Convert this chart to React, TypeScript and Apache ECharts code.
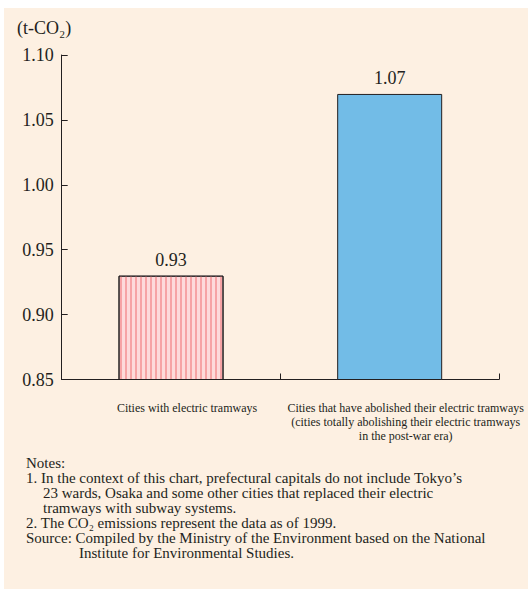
import React, { useEffect, useRef } from "react";
import * as echarts from "echarts";

const categories = [
  "Cities with electric tramways",
  "Cities that have abolished their electric tramways\n(cities totally abolishing their electric tramways\nin the post-war era)",
];
const values = [0.93, 1.07];
const yTicks = { min: 0.85, max: 1.1, interval: 0.05 };
const unitLabel = "(t-CO₂)";
const notesLines = [
  { text: "Notes:", indent: 0 },
  { text: "1. In the context of this chart, prefectural capitals do not include Tokyo’s", indent: 0 },
  { text: "23 wards, Osaka and some other cities that replaced their electric", indent: 17 },
  { text: "tramways with subway systems.", indent: 17 },
  { text: "2. The CO₂ emissions represent the data as of 1999.", indent: 0 },
  { text: "Source: Compiled by the Ministry of the Environment based on the National", indent: 0 },
  { text: "Institute for Environmental Studies.", indent: 53 },
];

const INK = "#231F20";
const FONT = "Liberation Serif";

export default function App() {
  const ref = useRef<HTMLDivElement>(null);
  useEffect(() => {
    if (!ref.current) return;
    const chart = echarts.init(ref.current, undefined, { renderer: "svg" });
    const noteGraphics = notesLines.map((l, i) => ({
      type: "text",
      left: 26 + l.indent,
      top: 455.5 + i * 15,
      style: { text: l.text, fill: INK, fontSize: 15, lineHeight: 15, fontFamily: FONT },
    }));
    chart.setOption({
      animation: false,
      backgroundColor: "#ffffff",
      textStyle: { fontFamily: FONT },
      grid: { left: 61.7, right: 29, top: 55, bottom: 209.5 },
      graphic: [
        {
          type: "rect",
          z: -10,
          shape: { x: 4, y: 8, width: 524, height: 581 },
          style: { fill: "#FDF0E2" },
        },
        {
          type: "text",
          left: 17,
          top: 19,
          style: { text: unitLabel, fill: INK, fontSize: 18, fontFamily: FONT },
        },
        ...noteGraphics,
      ],
      xAxis: {
        type: "category",
        data: categories,
        axisLine: { show: true, lineStyle: { color: INK, width: 1 } },
        axisTick: { show: true, inside: true, length: 6, lineStyle: { color: INK } },
        axisLabel: {
          color: INK,
          fontSize: 12,
          lineHeight: 14,
          margin: 21,
          interval: 0,
          padding: [0, 0, 0, 32],
          fontFamily: FONT,
        },
      },
      yAxis: {
        type: "value",
        min: yTicks.min,
        max: yTicks.max,
        interval: yTicks.interval,
        splitLine: { show: false },
        axisLine: { show: true, lineStyle: { color: INK, width: 1 } },
        axisTick: { show: true, inside: true, length: 6, lineStyle: { color: INK } },
        axisLabel: {
          color: INK,
          fontSize: 18,
          margin: 8,
          fontFamily: FONT,
          formatter: (v: number) => v.toFixed(2),
        },
      },
      series: [
        {
          type: "bar",
          barWidth: 105,
          data: [
            {
              value: values[0],
              itemStyle: {
                color: "#FDDADB",
                borderColor: INK,
                borderWidth: 1,
                decal: {
                  symbol: "rect",
                  symbolSize: 1,
                  color: "#F6A3A5",
                  dashArrayX: [2, 2.4],
                  dashArrayY: [4, 0],
                  rotation: 0,
                },
              },
            },
            {
              value: values[1],
              itemStyle: { color: "#72BCE7", borderColor: INK, borderWidth: 1 },
            },
          ],
          label: {
            show: true,
            position: "top",
            distance: 7,
            color: INK,
            fontSize: 18,
            fontFamily: FONT,
            formatter: (p: any) => Number(p.value).toFixed(2),
          },
        },
      ],
    });
    return () => chart.dispose();
  }, []);
  return (
    <div
      ref={ref}
      style={{ position: "absolute", left: 0, top: 0, width: 528, height: 589 }}
    />
  );
}
